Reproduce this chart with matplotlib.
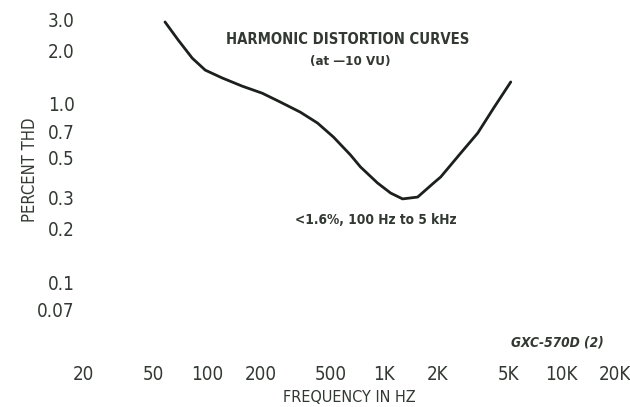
import numpy as np
import matplotlib as mpl
mpl.use('Agg')
import matplotlib.pyplot as plt
import matplotlib.ticker as ticker
from matplotlib import font_manager

# --- THD vs frequency ---
freq_hz = [58, 68.8, 82.6, 97.8, 122, 158, 205, 259, 336, 420, 517, 645,
           734, 916, 1086, 1268, 1542, 1898, 2080, 2698, 3366, 4140, 5167]
thd_pct = [2.89, 2.29, 1.81, 1.55, 1.40, 1.26, 1.15, 1.026, 0.90, 0.782,
           0.652, 0.517, 0.443, 0.36, 0.316, 0.293, 0.30, 0.36, 0.389, 0.53,
           0.687, 0.95, 1.33]

xticks = [20, 50, 100, 200, 500, 1000, 2000, 5000, 10000, 20000]
xlabels = ['20', '50', '100', '200', '500', '1K', '2K', '5K', '10K', '20K']
yticks = [3.0, 2.0, 1.0, 0.7, 0.5, 0.3, 0.2, 0.1, 0.07]
ylabels = ['3.0', '2.0', '1.0', '0.7', '0.5', '0.3', '0.2', '0.1', '0.07']

ink = '#323832'

# look for a narrow face on the system; fall back to DejaVu Sans
def find_face(bold=False, italic=False):
    for f in font_manager.fontManager.ttflist:
        n = f.fname.lower()
        if not ('condensed' in n or 'narrow' in n):
            continue
        if ('bold' in n) != bold:
            continue
        if (('italic' in n) or ('oblique' in n)) != italic:
            continue
        if 'light' in n or 'semi' in n or 'extra' in n or 'medium' in n:
            continue
        return font_manager.FontProperties(fname=f.fname)
    return None

reg = find_face()
bld = find_face(bold=True)
bit = find_face(bold=True, italic=True)
narrow = reg is not None
scale = 1.0 if narrow else 0.8
if reg is None:
    reg = font_manager.FontProperties(family='DejaVu Sans')
if bld is None:
    bld = font_manager.FontProperties(family='DejaVu Sans', weight='bold')
if bit is None:
    bit = font_manager.FontProperties(family='DejaVu Sans', weight='bold', style='italic')

def fp(base, size):
    p = base.copy()
    p.set_size(size * scale)
    return p

fig = plt.figure(figsize=(6.3, 4.07), dpi=100)
W, H = 630.0, 407.0
# axes box in pixels: x 83..615, y 15..355 (from top)
ax = fig.add_axes([83 / W, 1 - 355 / H, (615 - 83) / W, 340 / H])
ax.set_xscale('log')
ax.set_yscale('log')
ax.set_xlim(20, 20000)
ax.set_ylim(0.0389, 3.162)

ax.plot(freq_hz, thd_pct, color='#1c201c', lw=2.0,
        solid_capstyle='round', solid_joinstyle='round')

for s in ax.spines.values():
    s.set_visible(False)
ax.xaxis.set_major_locator(ticker.FixedLocator(xticks))
ax.xaxis.set_major_formatter(ticker.FixedFormatter(xlabels))
ax.xaxis.set_minor_locator(ticker.NullLocator())
ax.yaxis.set_major_locator(ticker.FixedLocator(yticks))
ax.yaxis.set_major_formatter(ticker.FixedFormatter(ylabels))
ax.yaxis.set_minor_locator(ticker.NullLocator())
ax.tick_params(axis='both', length=0, labelcolor=ink)
ax.tick_params(axis='x', pad=7)
ax.tick_params(axis='y', pad=6)
for lab in ax.get_xticklabels() + ax.get_yticklabels():
    lab.set_fontproperties(fp(reg, 13.5))

def px(x, y):
    return x / W, 1 - y / H

fig.text(*px(348, 40), 'HARMONIC DISTORTION CURVES', ha='center', va='center',
         fontproperties=fp(bld, 10.6), color=ink)
fig.text(*px(350, 62), '(at \u201410 VU)', ha='center', va='center',
         fontproperties=fp(bld, 9.5), color=ink)
fig.text(*px(376, 220), '<1.6%, 100 Hz to 5 kHz', ha='center', va='center',
         fontproperties=fp(bld, 9.8), color=ink)
fig.text(*px(557, 343), 'GXC-570D (2)', ha='center', va='center',
         fontproperties=fp(bit, 9.8), color=ink)
fig.text(*px(349, 397), 'FREQUENCY IN HZ', ha='center', va='center',
         fontproperties=fp(reg, 11.6), color=ink)
fig.text(*px(30, 170), 'PERCENT THD', ha='center', va='center',
         rotation=90, fontproperties=fp(reg, 11.9), color=ink)

fig.savefig('out.png', dpi=100)
